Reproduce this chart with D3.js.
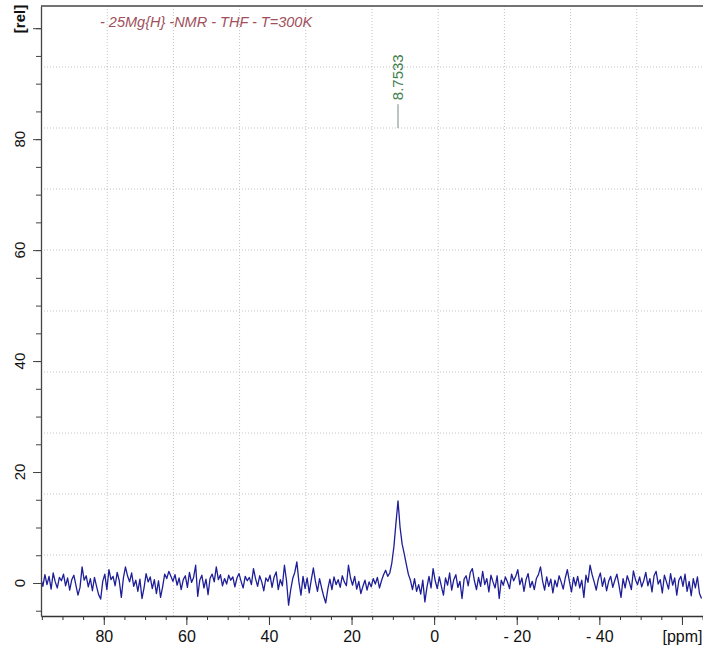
<!DOCTYPE html>
<html><head><meta charset="utf-8">
<script src="https://cdn.jsdelivr.net/npm/d3@7"></script>
<style>html,body{margin:0;padding:0;background:#fff;overflow:hidden}</style>
</head><body>
<svg id="c" width="703" height="647"></svg>
<script>
const title = "- 25Mg{H} -NMR - THF - T=300K";
const peakLabel = "8.7533";
const peakPpm = 8.7533;
const ppmFirst = 95.25, ppmStep = 0.5;
const intensity = [
 0.8,-0.6,1.5,-0.3,1.2,-1.1,1.8,0.2,-0.9,1.0,
 0.4,1.6,-0.5,0.9,-1.3,0.6,1.4,-0.4,-2.2,-0.8,
 2.9,0.5,1.3,-0.7,0.8,-1.4,1.0,-0.6,-2.1,-2.9,
 0.3,1.6,-1.2,2.4,0.6,1.2,-0.5,1.9,0.4,-2.6,
 0.9,2.9,1.3,0.2,1.8,-0.6,0.5,-1.5,0.7,-2.8,
 -0.9,1.7,0.2,1.1,-1.0,0.6,-1.9,0.4,-2.6,-0.7,
 1.6,0.8,2.1,1.2,0.3,1.5,-0.4,0.9,-1.2,0.6,
 1.3,-0.8,1.9,0.1,1.0,3.2,-2.4,0.5,1.4,-0.9,
 0.7,-2.1,0.9,1.6,0.2,2.9,0.6,1.5,-0.5,0.8,
 -0.2,1.4,0.5,1.1,-0.7,0.9,1.7,0.3,-0.9,1.2,
 0.4,1.0,-0.3,2.6,0.8,-0.6,1.3,0.2,-1.4,0.9,
 0.3,1.4,-0.8,1.1,2.0,-1.2,0.6,-0.5,3.2,0.4,
 -4.0,-1.3,0.8,1.9,3.8,0.2,-2.2,1.2,-1.0,0.9,
 -1.8,0.6,2.7,0.3,-1.5,0.8,-0.9,-2.4,-3.6,-1.1,
 0.7,-1.2,1.1,-0.3,0.6,-0.8,1.3,0.2,-0.5,3.2,
 0.9,-0.4,1.2,-1.1,0.3,-1.9,-0.6,0.5,-1.3,0.2,
 -0.7,0.8,-0.2,1.0,-0.9,0.4,1.5,2.3,1.2,1.8,
 3.6,6.5,10.8,14.8,10.0,7.0,5.3,3.4,1.6,0.5,
 -1.2,0.8,-1.5,-0.3,-2.0,0.5,-3.4,-0.8,1.2,-0.9,
 2.6,0.4,-1.0,1.1,-0.6,-2.2,0.9,-0.4,1.8,-1.3,
 0.6,1.5,-0.8,0.3,-2.8,0.7,1.3,-0.5,1.9,2.6,
 0.4,-1.2,1.0,-0.6,2.1,-0.3,0.8,-1.6,1.4,0.2,
 -0.9,1.3,-2.8,0.5,-0.4,1.1,0.2,-1.0,1.6,0.4,
 1.2,2.4,-0.3,0.9,-1.5,0.6,1.7,-0.8,0.3,-1.2,
 0.8,1.5,2.9,0.4,-1.3,1.1,-0.6,0.7,-1.8,0.5,
 -0.7,1.3,0.2,-1.1,0.9,2.4,0.3,-1.6,1.0,-0.5,
 1.2,-0.9,0.5,-2.6,1.4,0.1,3.2,1.5,0.2,-1.3,
 0.7,1.8,-0.6,0.9,-1.4,0.3,1.2,-0.8,0.5,1.6,
 -0.4,-2.6,0.8,-0.9,1.3,0.2,-1.2,2.2,0.6,-0.3,
 1.1,-0.7,0.4,1.9,-0.5,0.8,-1.6,1.3,2.1,-0.2,
 0.6,-1.8,1.4,0.2,-1.1,1.7,-0.4,0.9,-2.2,0.5,
 1.2,-0.6,1.6,-1.5,0.3,-2.3,0.8,-0.9,1.1,-1.9,
 -2.8
];
const xMajorTicks = [80,60,40,20,0,-20,-40,-60];
const xMajorLabels = ["80","60","40","20","0","- 20","- 40","[ppm]"];
const yMajorTicks = [0,20,40,60,80,100];
const yMajorLabels = ["0","20","40","60","80","[rel]"];
const xDomain = [95.2, -65.1];
const yDomain = [-5.95, 104];
const gridDivisions = 10;

(function () {
const W = 703, H = 647;
const pL = 41, pR = 703, pT = 6, pB = 616;
const font = "'Liberation Sans', Arial, sans-serif";

const svg = d3.select("#c");
svg.append("rect").attr("width", W).attr("height", H).attr("fill", "#fff");

const x = d3.scaleLinear().domain(xDomain).range([pL, pR]);
const y = d3.scaleLinear().domain(yDomain).range([pB, pT]);

// grid (equal divisions of the plot frame)
const grid = svg.append("g").attr("stroke", "#c4c4c4").attr("stroke-width", 1).attr("stroke-dasharray", "1,2");
d3.range(1, gridDivisions).forEach(i => {
  const gx = pL + i * (pR - pL) / gridDivisions;
  const gy = pT + i * (pB - pT) / gridDivisions;
  grid.append("line").attr("x1", gx).attr("x2", gx).attr("y1", pT).attr("y2", pB);
  grid.append("line").attr("x1", pL).attr("x2", pR).attr("y1", gy).attr("y2", gy);
});

// spectrum
const ppm = intensity.map((_, i) => ppmFirst - i * ppmStep);
svg.append("clipPath").attr("id", "clip").append("rect")
  .attr("x", pL).attr("y", pT).attr("width", pR - pL).attr("height", pB - pT);
svg.append("path")
  .datum(intensity)
  .attr("clip-path", "url(#clip)")
  .attr("fill", "none")
  .attr("stroke", "#1e1e98")
  .attr("stroke-width", 1.3)
  .attr("stroke-linejoin", "round")
  .attr("d", d3.line().x((d, i) => x(ppm[i])).y(d => y(d)));

// x axis
const xMinor = d3.range(95, -66, -5);
svg.append("g").attr("transform", `translate(0,${pB})`)
  .call(d3.axisBottom(x).tickValues(xMinor).tickSize(4).tickSizeOuter(0).tickFormat(""))
  .call(g => g.select(".domain").remove())
  .call(g => g.selectAll("line").attr("stroke", "#333"));
const xAx = svg.append("g").attr("transform", `translate(0,${pB})`)
  .call(d3.axisBottom(x).tickValues(xMajorTicks).tickSize(9).tickSizeOuter(0).tickPadding(6)
    .tickFormat((d, i) => xMajorLabels[i]));
xAx.select(".domain").attr("stroke", "#333").attr("stroke-width", 1.3);
xAx.selectAll("line").attr("stroke", "#333");
xAx.selectAll("text").attr("font-family", font).attr("font-size", 16).attr("fill", "#111");

// y axis
const yMinor = d3.range(-5, 101, 5);
svg.append("g").attr("transform", `translate(${pL},0)`)
  .call(d3.axisLeft(y).tickValues(yMinor).tickSize(5).tickSizeOuter(0).tickFormat(""))
  .call(g => g.select(".domain").remove())
  .call(g => g.selectAll("line").attr("stroke", "#444"));
const yAx = svg.append("g").attr("transform", `translate(${pL},0)`)
  .call(d3.axisLeft(y).tickValues(yMajorTicks).tickSize(8).tickSizeOuter(0).tickFormat(""));
yAx.select(".domain").attr("stroke", "#444").attr("stroke-width", 1.3);
yAx.selectAll("line").attr("stroke", "#444");
yMajorTicks.forEach((v, i) => {
  const isUnit = yMajorLabels[i].startsWith("[");
  const ty = isUnit ? y(v) + 5 : y(v);
  svg.append("text")
    .attr("transform", `translate(25,${ty}) rotate(-90)`)
    .attr("text-anchor", isUnit ? "start" : "middle")
    .attr("font-family", font).attr("font-size", 15)
    .attr("font-weight", isUnit ? "bold" : "normal")
    .attr("fill", "#111")
    .text(yMajorLabels[i]);
});

// top frame line
svg.append("line").attr("x1", pL).attr("x2", pR).attr("y1", pT).attr("y2", pT)
  .attr("stroke", "#444").attr("stroke-width", 1.3);

// title
svg.append("text").attr("x", 100).attr("y", 27)
  .attr("font-family", font).attr("font-size", 14.5).attr("font-style", "italic")
  .attr("fill", "#a0505c").text(title);

// peak annotation
const px = x(peakPpm);
svg.append("line").attr("x1", px).attr("x2", px).attr("y1", y(82)).attr("y2", y(86.3))
  .attr("stroke", "#7a8a7e").attr("stroke-width", 1);
svg.append("text")
  .attr("transform", `translate(${px + 5},${y(86.3) - 4}) rotate(-90)`)
  .attr("text-anchor", "start")
  .attr("font-family", font).attr("font-size", 15)
  .attr("fill", "#3f8050").text(peakLabel);
})();
</script>
</body></html>
